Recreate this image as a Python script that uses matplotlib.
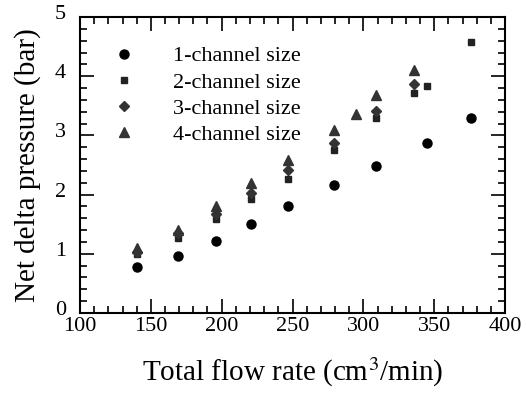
import numpy as np
import matplotlib
matplotlib.use('Agg')
import matplotlib.pyplot as plt
import matplotlib.transforms as mtransforms
from matplotlib.ticker import MultipleLocator

plt.rcParams['font.family'] = ['Liberation Serif', 'DejaVu Serif']
plt.rcParams['mathtext.fontset'] = 'stix'

# Data
x1 = [140, 169, 196, 221, 247, 279, 309, 345, 376]
y1 = [0.78, 0.97, 1.22, 1.50, 1.81, 2.16, 2.49, 2.88, 3.29]

x2 = [140, 169, 196, 221, 247, 279, 309, 336, 345, 376]
y2 = [0.99, 1.26, 1.58, 1.93, 2.26, 2.75, 3.29, 3.71, 3.83, 4.57]

x3 = [140, 169, 196, 221, 247, 279, 309, 336]
y3 = [1.03, 1.35, 1.68, 2.03, 2.42, 2.87, 3.41, 3.86]

x4 = [140, 169, 196, 221, 247, 279, 295, 309, 336]
y4 = [1.09, 1.41, 1.80, 2.19, 2.58, 3.09, 3.36, 3.69, 4.10]

labels = ['1-channel size', '2-channel size', '3-channel size', '4-channel size']

fig = plt.figure(figsize=(5.26, 3.95), dpi=100)
ax = fig.add_axes([80/526, 1 - 313/395, 425/526, 296/395])

ax.plot(x1, y1, 'o', color='black', markersize=6.5, label=labels[0], linestyle='none')
ax.plot(x2, y2, 's', color='#222222', markersize=4, label=labels[1], linestyle='none')
ax.plot(x3, y3, 'D', color='#333333', markersize=5, label=labels[2], linestyle='none')
ax.plot(x4, y4, '^', color='#333333', markersize=7, label=labels[3], linestyle='none')

ax.set_xlim(100, 400)
ax.set_ylim(0, 5)
ax.xaxis.set_major_locator(MultipleLocator(50))
ax.xaxis.set_minor_locator(MultipleLocator(10))
ax.yaxis.set_major_locator(MultipleLocator(1))
ax.yaxis.set_minor_locator(MultipleLocator(0.2))
ax.tick_params(which='both', direction='in', top=True, right=True, labelsize=16, width=1.2)
ax.tick_params(axis='x', pad=3)
ax.tick_params(axis='y', pad=10)
ax.tick_params(which='major', length=10)
ax.tick_params(which='minor', length=5)
for s in ax.spines.values():
    s.set_linewidth(1.5)

# y tick labels sit a little above their ticks in the original
shift = mtransforms.ScaledTranslation(0, 5/100, fig.dpi_scale_trans)
for lbl in ax.get_yticklabels():
    lbl.set_transform(lbl.get_transform() + shift)

ax.set_xlabel('Total flow rate (cm$^3$/min)', fontsize=21, labelpad=14)
ax.set_ylabel('Net delta pressure (bar)', fontsize=21, labelpad=10)

ax.legend(loc='upper left', bbox_to_anchor=(0.03, 0.97), frameon=False, fontsize=16,
          handlelength=1, handletextpad=1.7, labelspacing=0.25)

fig.savefig('out.png', dpi=100)
